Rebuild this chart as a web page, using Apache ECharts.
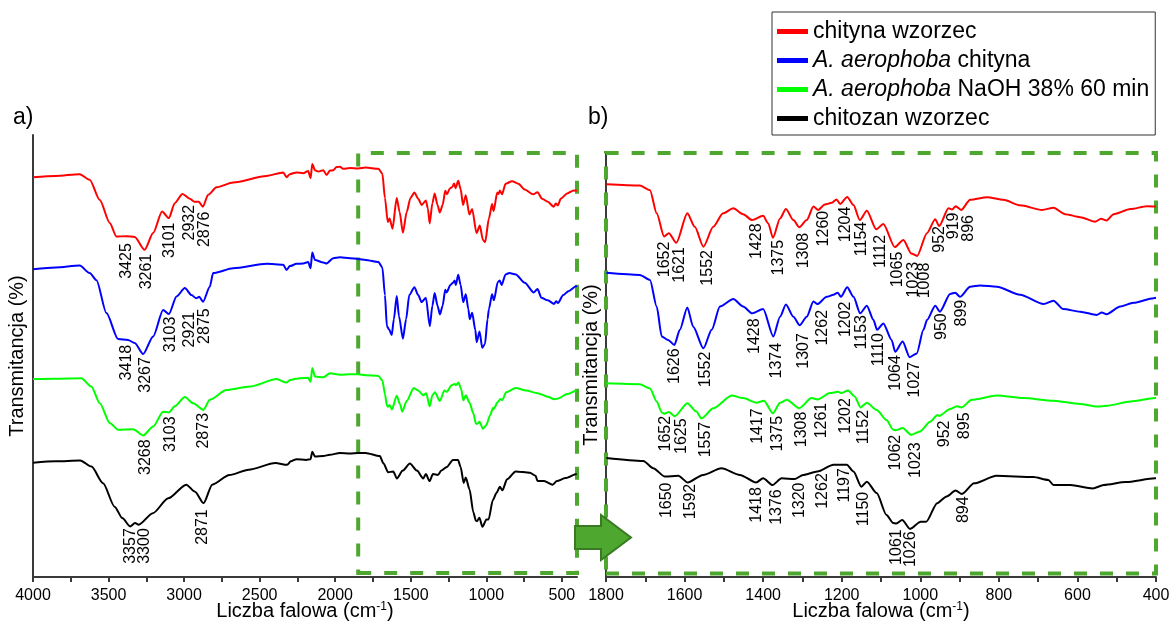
<!DOCTYPE html>
<html>
<head>
<meta charset="utf-8">
<script src="https://cdn.jsdelivr.net/npm/echarts@6.0.0/dist/echarts.min.js"></script>
<style>
  html, body { margin: 0; padding: 0; background: #fff; }
  #chart { width: 1169px; height: 623px; }
</style>
</head>
<body>
<div id="chart"></div>
<script>
// nazwy serii i kolory
const names = ["chityna wzorzec", "A. aerophoba chityna", "A. aerophoba NaOH 38% 60 min", "chitozan wzorzec"];
const colors = ["#ff0000", "#0000ff", "#00ff00", "#000000"];

// widma: [liczba falowa, transmitancja (j. umowne, z przesunieciem)]
const red = [
  [4000, 90.4], [3850, 90.7], [3691, 91.1], [3625, 89.8], [3558, 85.2], [3492, 80.0], [3448, 76.9],
  [3381, 77.0], [3327, 76.8], [3261, 73.9], [3205, 77.7], [3146, 82.6], [3101, 81.1], [3062, 84.5],
  [3011, 86.6], [2962, 85.5], [2932, 84.8], [2903, 84.8], [2876, 83.7], [2841, 86.4], [2785, 88.1],
  [2675, 89.2], [2454, 90.7], [2344, 91.5], [2322, 90.4], [2300, 91.1], [2256, 91.5], [2212, 91.3],
  [2179, 91.8], [2163, 90.2], [2152, 93.4], [2134, 92.0], [2113, 91.7], [2079, 92.0], [2057, 90.9],
  [2035, 91.9], [2013, 92.0], [1991, 92.7], [1969, 92.8], [1947, 92.3], [1903, 92.5], [1848, 92.4],
  [1799, 92.6], [1714, 92.3], [1688, 91.2], [1671, 85.7], [1652, 80.2], [1640, 81.0], [1621, 78.7],
  [1593, 85.7], [1574, 82.5], [1552, 77.8], [1527, 82.5], [1502, 85.7], [1476, 86.9], [1451, 85.5],
  [1428, 84.1], [1400, 85.1], [1387, 83.3], [1375, 79.9], [1357, 84.5], [1342, 86.7], [1323, 84.1],
  [1308, 82.4], [1289, 84.1], [1272, 87.3], [1260, 86.5], [1243, 87.8], [1225, 88.2], [1213, 89.0],
  [1204, 87.9], [1186, 89.6], [1170, 87.7], [1154, 84.1], [1136, 86.3], [1112, 81.9], [1094, 83.2],
  [1065, 77.7], [1043, 79.4], [1023, 76.2], [1008, 75.6], [983, 81.0], [962, 84.3], [952, 82.7],
  [928, 86.9], [919, 86.6], [910, 87.4], [896, 86.5], [873, 88.9], [830, 89.5], [788, 88.9],
  [746, 87.6], [690, 86.5], [661, 87.0], [631, 85.5], [593, 84.8], [555, 83.7], [540, 84.4],
  [526, 84.0], [508, 85.5], [465, 86.7], [423, 87.4], [400, 87.3]
];
const blue = [
  [4000, 69.5], [3850, 69.9], [3691, 70.3], [3625, 68.6], [3580, 67.0], [3514, 59.5], [3437, 53.6],
  [3371, 53.4], [3327, 52.7], [3271, 50.2], [3205, 54.2], [3139, 60.2], [3101, 59.3], [3050, 63.3],
  [2995, 65.2], [2951, 63.6], [2921, 62.9], [2900, 63.2], [2875, 62.1], [2830, 65.5], [2808, 68.6],
  [2675, 69.7], [2454, 70.7], [2344, 70.5], [2322, 69.3], [2300, 70.2], [2256, 70.7], [2212, 70.8],
  [2179, 71.1], [2163, 69.7], [2152, 73.3], [2134, 71.6], [2079, 71.0], [2057, 70.8], [2013, 72.0],
  [1969, 72.2], [1903, 72.0], [1848, 71.8], [1799, 71.6], [1714, 71.1], [1688, 69.9], [1671, 63.6],
  [1658, 56.5], [1642, 55.7], [1626, 54.5], [1612, 58.1], [1593, 63.4], [1578, 58.8], [1552, 53.7],
  [1531, 58.1], [1510, 63.6], [1476, 65.4], [1451, 63.6], [1428, 62.0], [1400, 63.0], [1374, 56.5],
  [1357, 61.2], [1342, 64.1], [1323, 61.2], [1307, 59.2], [1289, 61.2], [1272, 64.8], [1262, 64.2],
  [1238, 65.9], [1221, 66.4], [1210, 66.9], [1202, 65.9], [1186, 68.2], [1170, 65.9], [1153, 62.0],
  [1136, 63.8], [1119, 60.4], [1110, 58.1], [1094, 59.6], [1073, 55.7], [1064, 52.9], [1045, 55.3],
  [1027, 51.6], [1009, 52.5], [992, 58.1], [983, 60.4], [962, 63.8], [950, 62.4], [924, 66.6],
  [911, 66.9], [899, 65.9], [873, 68.3], [848, 68.6], [805, 68.3], [746, 66.4], [686, 64.2],
  [661, 65.0], [636, 63.0], [593, 62.4], [551, 61.6], [538, 62.2], [526, 61.8], [491, 63.6],
  [457, 64.5], [406, 65.6], [400, 65.7]
];
const green = [
  [4000, 44.5], [3850, 44.6], [3680, 44.7], [3614, 42.8], [3558, 39.0], [3492, 34.5], [3437, 33.0],
  [3338, 33.1], [3271, 31.7], [3205, 33.7], [3139, 37.1], [3101, 36.9], [3062, 38.3], [2995, 40.4],
  [2940, 39.0], [2873, 37.5], [2830, 39.8], [2720, 42.0], [2565, 42.8], [2388, 44.5], [2322, 43.7],
  [2300, 44.3], [2234, 44.7], [2179, 44.8], [2163, 43.9], [2152, 47.0], [2134, 45.1], [2079, 44.9],
  [2035, 45.8], [1969, 45.5], [1903, 45.6], [1848, 45.6], [1799, 45.4], [1714, 45.2], [1688, 44.2],
  [1671, 41.1], [1658, 38.5], [1652, 38.2], [1640, 38.6], [1625, 37.6], [1593, 40.7], [1570, 38.7],
  [1557, 37.1], [1527, 39.5], [1480, 42.5], [1451, 41.9], [1417, 40.8], [1398, 41.3], [1375, 38.3],
  [1357, 40.8], [1340, 41.5], [1308, 39.5], [1277, 41.9], [1261, 41.6], [1230, 43.1], [1209, 43.4],
  [1202, 43.1], [1184, 43.7], [1167, 42.3], [1152, 39.7], [1136, 40.8], [1111, 39.1], [1086, 36.7],
  [1069, 34.4], [1062, 34.3], [1045, 34.8], [1023, 33.2], [1001, 34.0], [975, 36.3], [956, 37.9],
  [952, 37.7], [924, 39.3], [907, 40.0], [895, 39.7], [869, 41.5], [805, 42.5], [737, 41.9],
  [661, 41.3], [593, 40.5], [550, 39.9], [525, 40.1], [465, 41.1], [402, 41.9], [400, 41.9]
];
const black = [
  [4000, 25.5], [3850, 25.8], [3688, 26.0], [3613, 24.6], [3536, 20.8], [3460, 15.5], [3409, 12.9],
  [3357, 11.0], [3325, 11.8], [3300, 11.4], [3207, 14.0], [3105, 17.4], [2986, 20.5], [2928, 18.9],
  [2871, 16.3], [2814, 20.5], [2700, 22.7], [2573, 23.9], [2396, 25.4], [2318, 25.0], [2294, 25.8],
  [2256, 26.3], [2193, 26.1], [2163, 26.3], [2152, 28.0], [2134, 26.9], [2079, 27.0], [2035, 27.3],
  [1969, 27.7], [1903, 27.6], [1848, 27.7], [1799, 27.7], [1705, 27.0], [1680, 25.3], [1650, 23.3],
  [1616, 23.5], [1592, 21.9], [1553, 23.7], [1506, 25.3], [1459, 23.7], [1418, 21.9], [1400, 22.9],
  [1376, 21.3], [1353, 22.9], [1320, 22.7], [1298, 23.7], [1262, 24.5], [1221, 26.1], [1187, 26.1],
  [1170, 24.5], [1150, 20.9], [1136, 22.1], [1111, 19.4], [1086, 14.2], [1069, 12.3], [1061, 12.2],
  [1046, 13.0], [1026, 10.9], [999, 12.6], [985, 12.6], [957, 17.0], [933, 18.6], [910, 20.0],
  [894, 19.2], [863, 21.7], [806, 23.5], [712, 23.2], [674, 22.5], [661, 21.3], [618, 21.3],
  [561, 20.5], [533, 21.3], [477, 22.0], [402, 22.9], [400, 22.9]
];

// opisy pasm: [tekst, liczba falowa kotwicy, transmitancja kotwicy]
const peaksA = [
  ["3425", 3381, 75.4], ["3261", 3249, 73.0], ["3101", 3099, 80.1], ["2932", 2967, 84.1], ["2876", 2863, 82.6],
  ["3418", 3381, 52.3], ["3267", 3256, 49.5], ["3103", 3090, 58.7], ["2921", 2962, 59.8], ["2875", 2863, 60.6],
  ["3268", 3256, 30.8], ["3103", 3090, 36.0], ["2873", 2874, 36.8],
  ["3357", 3354, 10.6], ["3300", 3262, 10.6], ["2871", 2877, 14.9]
];
const peaksB = [
  ["1652", 1650, 79.0], ["1621", 1612, 77.7], ["1552", 1542, 77.0], ["1428", 1417, 83.3], ["1375", 1361, 79.4],
  ["1308", 1296, 81.1], ["1260", 1245, 86.3], ["1204", 1189, 87.3], ["1154", 1149, 83.7], ["1112", 1102, 80.6],
  ["1065", 1058, 76.6], ["1023", 1017, 74.2], ["1008", 989, 74.0], ["952", 951, 82.7], ["919", 914, 85.9],
  ["896", 877, 85.3],
  ["1626", 1625, 53.7], ["1552", 1546, 52.9], ["1428", 1421, 60.8], ["1374", 1366, 55.0], ["1307", 1296, 57.3],
  ["1262", 1248, 62.8], ["1202", 1189, 64.8], ["1153", 1149, 61.6], ["1110", 1107, 57.3], ["1064", 1064, 52.1],
  ["1027", 1015, 50.5], ["950", 945, 62.0], ["899", 894, 65.2],
  ["1652", 1648, 37.7], ["1625", 1608, 37.1], ["1557", 1546, 36.3], ["1417", 1414, 39.5], ["1375", 1363, 37.7],
  ["1308", 1302, 38.7], ["1261", 1251, 40.8], ["1202", 1190, 41.9], ["1152", 1145, 39.1], ["1062", 1064, 33.2],
  ["1023", 1011, 31.4], ["952", 939, 36.6], ["895", 886, 38.5],
  ["1650", 1646, 21.9], ["1592", 1585, 21.6], ["1418", 1417, 20.8], ["1376", 1367, 20.3], ["1320", 1306, 21.9],
  ["1262", 1248, 24.1], ["1197", 1192, 25.3], ["1150", 1145, 19.7], ["1061", 1060, 10.8], ["1026", 1025, 10.3],
  ["894", 889, 18.6]
];

// podzialki osi X
const ticksA = [4000, 3750, 3500, 3250, 3000, 2750, 2500, 2250, 2000, 1750, 1500, 1250, 1000, 750, 500];
const tickLabelsA = [4000, 3500, 3000, 2500, 2000, 1500, 1000, 500];
const tickLabelsB = [1800, 1600, 1400, 1200, 1000, 800, 600, 400];

// zakres powiekszenia (ramka przerywana)
const zoomBoxA = [1848, 400, 0.4, 95.9];
const zoomBoxB = [1800, 400, 0.3, 100];

const FONT = '"Liberation Sans", Arial, sans-serif';
const AXIS_COLOR = "#3a3a3a";
const BOX_GREEN = "#4ea72e";
const spectra = [red, blue, green, black];

const xName = "{n|Liczba falowa (cm}{s|-1}{n|)}";
const xNameStyle = {
  fontSize: 20, color: "#000", fontFamily: FONT,
  rich: {
    n: { fontSize: 20, fontFamily: FONT, color: "#000" },
    s: { fontSize: 12, fontFamily: FONT, color: "#000", verticalAlign: "top" },
  },
};

function xAxisFor(idx, min, max, interval, labels, ticks) {
  return {
    gridIndex: idx,
    type: "value",
    inverse: true,
    min: min,
    max: max,
    interval: interval,
    name: xName,
    nameLocation: "middle",
    nameGap: 24,
    nameMoveOverlap: false,
    nameTextStyle: xNameStyle,
    axisLine: { onZero: false, lineStyle: { color: AXIS_COLOR, width: 2 } },
    axisTick: Object.assign(
      { show: true, inside: false, length: 5, lineStyle: { color: AXIS_COLOR, width: 2 } },
      ticks ? { customValues: ticks } : {}
    ),
    axisLabel: {
      customValues: labels,
      formatter: (v) => (labels.indexOf(v) >= 0 ? String(v) : ""),
      fontSize: 16,
      fontFamily: FONT,
      color: "#000",
      margin: 11,
    },
    splitLine: { show: false },
  };
}

function yAxisFor(idx, gap) {
  return {
    gridIndex: idx,
    type: "value",
    min: -0.5,
    max: 100,
    name: "Transmitancja (%)",
    nameLocation: "middle",
    nameGap: gap,
    nameMoveOverlap: false,
    nameTextStyle: { fontSize: 20, color: "#000", fontFamily: FONT },
    axisLine: { show: true, onZero: false, lineStyle: { color: AXIS_COLOR, width: 2 } },
    axisTick: { show: false },
    axisLabel: { show: false },
    splitLine: { show: false },
  };
}

function lineSeries(i, ax, data) {
  return {
    name: names[i],
    type: "line",
    xAxisIndex: ax,
    yAxisIndex: ax,
    data: data,
    symbol: "none",
    smooth: 0.25,
    smoothMonotone: "x",
    silent: true,
    lineStyle: { color: colors[i], width: 2 },
    itemStyle: { color: colors[i] },
    z: 3,
  };
}

function peakLabels(list, ax) {
  return {
    type: "custom",
    xAxisIndex: ax,
    yAxisIndex: ax,
    silent: true,
    z: 4,
    data: list.map((p) => [p[1], p[2]]),
    renderItem: (params, api) => {
      const pt = api.coord([api.value(0), api.value(1)]);
      return {
        type: "text",
        x: pt[0],
        y: pt[1],
        rotation: Math.PI / 2,
        style: {
          text: list[params.dataIndex][0],
          fontSize: 16,
          fontFamily: FONT,
          fill: "#000",
          align: "right",
          verticalAlign: "middle",
        },
      };
    },
  };
}

function boxSeries(ax, b) {
  return {
    type: "line",
    xAxisIndex: ax,
    yAxisIndex: ax,
    data: [],
    silent: true,
    clip: false,
    markArea: {
      silent: true,
      itemStyle: { color: "rgba(0,0,0,0)", borderColor: BOX_GREEN, borderWidth: 4, borderType: [13, 13] },
      data: [[{ xAxis: b[0], yAxis: b[2] }, { xAxis: b[1], yAxis: b[3] }]],
    },
    z: 2,
  };
}

const series = [];
spectra.forEach((d, i) => series.push(lineSeries(i, 0, d)));
spectra.forEach((d, i) => series.push(lineSeries(i, 1, d.filter((p) => p[0] <= 1800))));
series.push(boxSeries(0, zoomBoxA), boxSeries(1, zoomBoxB));
series.push(peakLabels(peaksA, 0), peakLabels(peaksB, 1));

const option = {
  animation: false,
  backgroundColor: "#fff",
  grid: [
    { left: 33, right: 592, top: 135, bottom: 46, outerBoundsMode: "none", containLabel: false },
    { left: 606, right: 13, top: 153, bottom: 46, outerBoundsMode: "none", containLabel: false },
  ],
  xAxis: [
    xAxisFor(0, 400, 4000, 100, tickLabelsA, ticksA),
    xAxisFor(1, 400, 1800, 100, tickLabelsB, null),
  ],
  yAxis: [yAxisFor(0, 6), yAxisFor(1, 5)],
  legend: {
    orient: "vertical",
    left: 772,
    top: 12,
    padding: [8, 6, 5, 5],
    itemGap: 6,
    itemWidth: 31,
    itemHeight: 5,
    icon: "rect",
    borderColor: "#333",
    borderWidth: 1,
    selectedMode: false,
    data: names,
    formatter: (n) => (n.indexOf("A. aerophoba") === 0 ? "{i|A. aerophoba}" + n.slice(12) : n),
    textStyle: {
      fontSize: 23,
      color: "#000",
      fontFamily: FONT,
      rich: { i: { fontSize: 23, fontStyle: "italic", color: "#000", fontFamily: FONT } },
    },
  },
  graphic: [
    { type: "text", x: 13, y: 118, style: { text: "a)", fontSize: 23, fontFamily: FONT, fill: "#000", verticalAlign: "middle" } },
    { type: "text", x: 588, y: 118, style: { text: "b)", fontSize: 23, fontFamily: FONT, fill: "#000", verticalAlign: "middle" } },
    {
      type: "polygon",
      shape: { points: [[575, 526], [601, 526], [601, 515], [631, 537.5], [601, 560], [601, 549], [575, 549]] },
      style: { fill: BOX_GREEN, stroke: "#3a7a22", lineWidth: 2 },
      z: 10,
    },
  ],
  series: series,
};

const chart = echarts.init(document.getElementById("chart"));
chart.setOption(option);
</script>
</body>
</html>
